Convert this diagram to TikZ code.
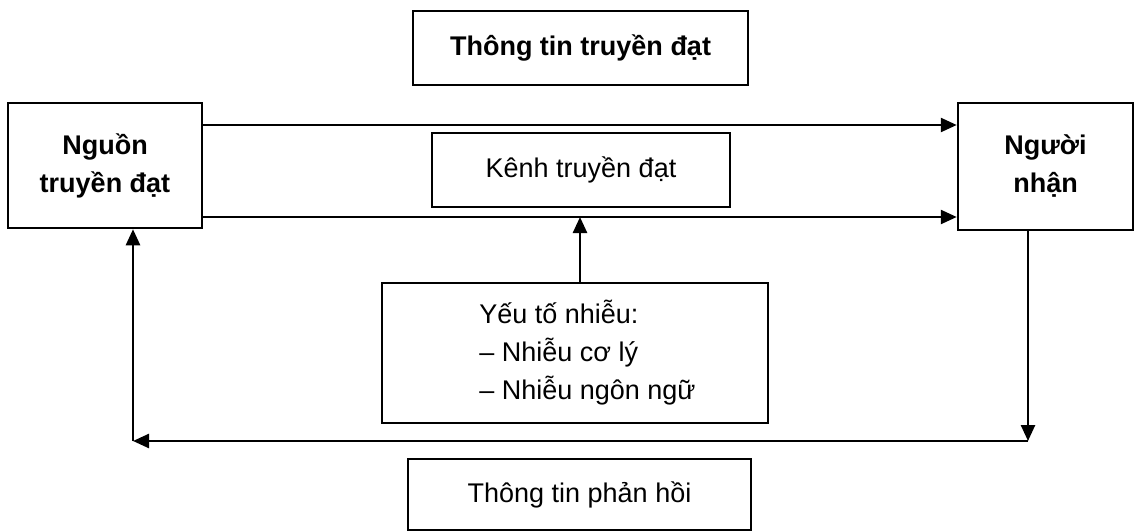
\documentclass[tikz,border=0pt]{standalone}
\usepackage{fontspec}
\setmainfont{Liberation Sans}
\usetikzlibrary{arrows.meta}
\begin{document}
\begin{tikzpicture}[x=1pt,y=-1pt,
  box/.style={draw, line width=2.5pt, inner sep=0pt, align=center, font=\fontsize{27}{38}\selectfont},
  bbox/.style={box, font=\fontsize{27}{38}\selectfont\bfseries},
  arr/.style={line width=2.5pt, -{Triangle[length=16pt,width=14pt]}}]
\useasboundingbox (0,0) rectangle (1136,532);
\node[bbox, minimum width=335pt, minimum height=74pt] (tt) at (580.5,48) {Thông tin truyền đạt};
\node[bbox, minimum width=194pt, minimum height=125pt] (nguon) at (105,165.5) {Nguồn\\truyền đạt};
\node[bbox, minimum width=175pt, minimum height=127pt] (nhan) at (1045.5,166.5) {Người\\nhận};
\node[box, minimum width=298pt, minimum height=74pt] (kenh) at (581,170) {Kênh truyền đạt};
\node[box, minimum width=386pt, minimum height=140pt, align=left] (noise) at (575,353)
  {\hspace*{25pt}Yếu tố nhiễu:\\\hspace*{25pt}– Nhiễu cơ lý\\\hspace*{25pt}– Nhiễu ngôn ngữ};
\node[box, minimum width=343pt, minimum height=71pt] (ph) at (579.5,494.5) {Thông tin phản hồi};
\coordinate (ya) at (0,125);
\coordinate (yb) at (0,217);
\coordinate (ax) at (580,217);
\coordinate (c1) at (1028,441);
\coordinate (c2) at (133,441);
\draw[arr] (nguon.east |- ya) -- (nhan.west |- ya);
\draw[arr] (nguon.east |- yb) -- (nhan.west |- yb);
\draw[arr] (noise.north -| ax) -- (ax);
\draw[arr] (nhan.south -| c1) -- (c1);
\draw[arr] (c1) -- (c2);
\draw[arr] (c2) -- (nguon.south -| c2);
\end{tikzpicture}
\end{document}
